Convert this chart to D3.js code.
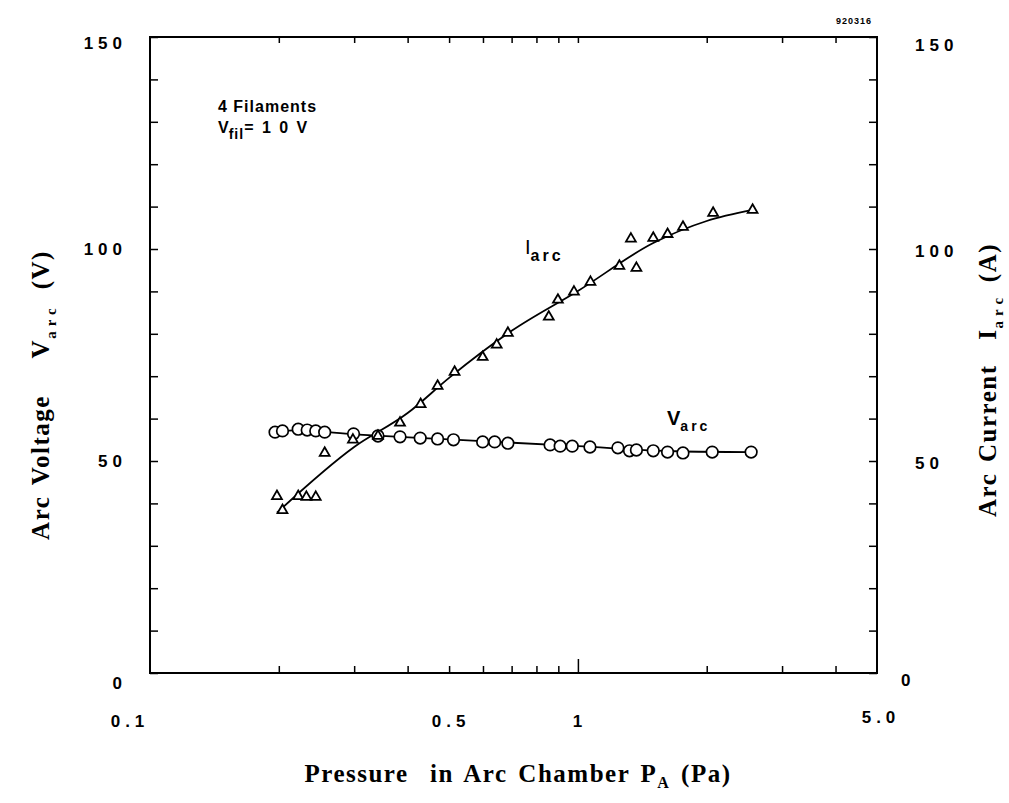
<!DOCTYPE html>
<html>
<head>
<meta charset="utf-8">
<script src="https://cdn.jsdelivr.net/npm/d3@7"></script>
<style>
  html, body { margin: 0; padding: 0; background: #fff; }
  svg { display: block; }
  .tick-lbl { font-family: "Liberation Sans", Arial, sans-serif; font-weight: bold; font-size: 17px; letter-spacing: 5px; fill: #000; }
  .title { font-family: "Liberation Serif", "Times New Roman", serif; font-weight: bold; font-size: 25px; fill: #000; letter-spacing: 1.5px; word-spacing: 3px; }
  .note { font-family: "Liberation Sans", Arial, sans-serif; font-weight: bold; font-size: 16px; fill: #000; }
</style>
</head>
<body>
<svg id="chart" width="1009" height="803"></svg>
<script>
// Measured arc voltage (circles) vs chamber pressure
const vPressure = [0.196, 0.204, 0.222, 0.233, 0.244, 0.256, 0.299, 0.341, 0.384, 0.428, 0.470, 0.512,
                   0.599, 0.639, 0.686, 0.861, 0.909, 0.970, 1.067, 1.24, 1.32, 1.37, 1.50, 1.62, 1.76, 2.06, 2.54];
const vArc = [56.8, 57.1, 57.5, 57.3, 57.1, 56.8, 56.4, 55.9, 55.7, 55.4, 55.2, 55.0,
              54.5, 54.5, 54.2, 53.8, 53.5, 53.5, 53.3, 53.1, 52.4, 52.6, 52.4, 52.1, 51.9, 52.1, 52.1];

// Measured arc current (triangles) vs chamber pressure
const iPressure = [0.198, 0.204, 0.222, 0.232, 0.244, 0.256, 0.298, 0.341, 0.384, 0.429, 0.470, 0.515,
                   0.599, 0.646, 0.686, 0.855, 0.898, 0.979, 1.07, 1.25, 1.33, 1.37, 1.50, 1.62, 1.76, 2.07, 2.56];
const iArc = [41.7, 38.4, 41.7, 41.5, 41.5, 51.9, 55.0, 55.9, 59.0, 63.4, 67.7, 71.0,
              74.5, 77.4, 80.2, 84.0, 88.0, 89.9, 92.2, 96.0, 102.4, 95.5, 102.6, 103.5, 105.2, 108.5, 109.2];

// Smooth trend curves drawn through each data set
const iFitP = [0.198, 0.3, 0.4, 0.5, 0.7, 1.0, 1.5, 2.0, 2.56];
const iFit  = [37.8, 53.3, 61.3, 69.6, 80.7, 90.1, 101.4, 106.6, 109.2];
const vFitP = [0.196, 0.22, 0.3, 0.5, 1.0, 1.7, 2.54];
const vFit  = [57.0, 57.2, 56.3, 55.1, 53.5, 52.3, 52.1];

// Axis ticks and labels
const xTicks = [0.2, 0.3, 0.4, 0.5, 0.6, 0.7, 0.8, 0.9, 1, 2, 3, 4];
const xLabels = [0.1, 0.5, 1, 5];
const xLabelText = ["0.1", "0.5", "1", "5.0"];
const yTicks = d3.range(0, 151, 10);
const yLabels = [0, 50, 100, 150];

const svg = d3.select("#chart");
const plotL = 150, plotR = 877, plotT = 37, plotB = 673;

const x = d3.scaleLog().domain([0.1, 5]).range([plotL, plotR]);
const y = d3.scaleLinear().domain([0, 150]).range([plotB, plotT]);

// Tick marks (inward on all four sides)
function styleAxis(g) {
  g.select(".domain").remove();
  g.selectAll(".tick line").attr("stroke", "#000").attr("stroke-width", 1.5);
}
svg.append("g").attr("transform", `translate(${plotL},0)`)
  .call(d3.axisLeft(y).tickValues(yTicks).tickSize(-8).tickFormat(""))
  .call(styleAxis);
svg.append("g").attr("transform", `translate(${plotR},0)`)
  .call(d3.axisRight(y).tickValues(yTicks).tickSize(-8).tickFormat(""))
  .call(styleAxis);
svg.append("g").attr("transform", `translate(0,${plotT})`)
  .call(d3.axisTop(x).tickValues(xTicks).tickSize(-6).tickFormat(""))
  .call(styleAxis);
const bAxis = svg.append("g").attr("transform", `translate(0,${plotB})`)
  .call(d3.axisBottom(x).tickValues(xTicks).tickSize(-7).tickFormat(""))
  .call(styleAxis);
bAxis.selectAll(".tick line").filter(d => d === 1).attr("y2", -14);

// Frame
svg.append("rect")
  .attr("x", plotL).attr("y", plotT)
  .attr("width", plotR - plotL).attr("height", plotB - plotT)
  .attr("fill", "none").attr("stroke", "#000").attr("stroke-width", 2);

// Y tick labels
const yOff = {0: 16, 50: 6, 100: 6, 150: 12};
svg.selectAll(".ylabL").data(yLabels).enter().append("text")
  .attr("class", "tick-lbl")
  .attr("x", 127).attr("text-anchor", "end")
  .attr("y", d => y(d) + yOff[d])
  .text(d => d);
svg.selectAll(".ylabR").data(yLabels).enter().append("text")
  .attr("class", "tick-lbl")
  .attr("x", d => d === 0 ? 901 : 915).attr("text-anchor", "start")
  .attr("y", d => y(d) + (d === 0 ? 13 : yOff[d] + 2))
  .text(d => d);

// X tick labels
const xDx = [-20, 2, 2, 4];
const xDy = [727, 727, 727, 723];
svg.selectAll(".xlab").data(xLabels).enter().append("text")
  .attr("class", "tick-lbl")
  .attr("text-anchor", "middle")
  .attr("x", (d, i) => x(d) + xDx[i])
  .attr("y", (d, i) => xDy[i])
  .text((d, i) => xLabelText[i]);

// Trend curves
const line = d3.line().x(d => x(d[0])).y(d => y(d[1])).curve(d3.curveMonotoneX);
svg.append("path")
  .datum(iFitP.map((p, i) => [p, iFit[i]]))
  .attr("d", line).attr("fill", "none").attr("stroke", "#000").attr("stroke-width", 1.8);
svg.append("path")
  .datum(vFitP.map((p, i) => [p, vFit[i]]))
  .attr("d", line).attr("fill", "none").attr("stroke", "#000").attr("stroke-width", 1.8);

// Voltage markers
svg.selectAll(".vpt").data(vPressure).enter().append("circle")
  .attr("cx", d => x(d)).attr("cy", (d, i) => y(vArc[i]))
  .attr("r", 5.8).attr("fill", "#fff").attr("stroke", "#000").attr("stroke-width", 1.7);

// Current markers
const tri = d3.symbol().type(d3.symbolTriangle).size(42);
svg.selectAll(".ipt").data(iPressure).enter().append("path")
  .attr("d", tri)
  .attr("transform", (d, i) => `translate(${x(d)},${y(iArc[i])})`)
  .attr("fill", "#fff").attr("stroke", "#000").attr("stroke-width", 1.8);

// Annotations
svg.append("text").attr("x", 836).attr("y", 24)
  .style("font-family", "Liberation Sans, Arial, sans-serif").style("font-weight", "bold")
  .style("font-size", "9px").style("letter-spacing", "1px").text("920316");

svg.append("text").attr("class", "note").attr("x", 218).attr("y", 112)
  .style("letter-spacing", "1px").text("4  Filaments");
const vfil = svg.append("text").attr("class", "note").attr("x", 218).attr("y", 133);
vfil.append("tspan").text("V");
vfil.append("tspan").attr("dy", 6).style("font-size", "14px").style("letter-spacing", "1px").text("fil");
vfil.append("tspan").attr("dy", -6).style("letter-spacing", "2px").text("= 1 0 V");

const iLab = svg.append("text").attr("class", "note").attr("x", 525).attr("y", 254);
iLab.append("tspan").style("font-weight", "normal").style("font-size", "20px").text("I");
iLab.append("tspan").attr("dy", 7).style("font-size", "16px").style("letter-spacing", "3px").text("arc");

const vLab = svg.append("text").attr("class", "note").attr("x", 667).attr("y", 425);
vLab.append("tspan").style("font-size", "20px").text("V");
vLab.append("tspan").attr("dy", 6).style("font-size", "14px").style("letter-spacing", "3px").text("arc");

// Axis titles
const xt = svg.append("text").attr("class", "title").attr("x", 518).attr("y", 782).attr("text-anchor", "middle");
xt.append("tspan").text("Pressure  in Arc Chamber P");
xt.append("tspan").attr("dy", 6).style("font-size", "16px").text("A");
xt.append("tspan").attr("dy", -6).text(" (Pa)");
xt.style("white-space", "pre");

const yl = svg.append("text").attr("class", "title")
  .attr("transform", "translate(49,395) rotate(-90)").attr("text-anchor", "middle");
yl.append("tspan").text("Arc Voltage\u2003 V");
yl.append("tspan").attr("dy", 7).style("font-size", "15px").style("letter-spacing", "5px").text("arc");
yl.append("tspan").attr("dy", -7).text("\u2002(V)");

const yr = svg.append("text").attr("class", "title")
  .attr("transform", "translate(996,380) rotate(-90)").attr("text-anchor", "middle");
yr.append("tspan").text("Arc Current\u2002 I");
yr.append("tspan").attr("dy", 7).style("font-size", "15px").style("letter-spacing", "5px").text("arc");
yr.append("tspan").attr("dy", -7).text(" (A)");
</script>
</body>
</html>
